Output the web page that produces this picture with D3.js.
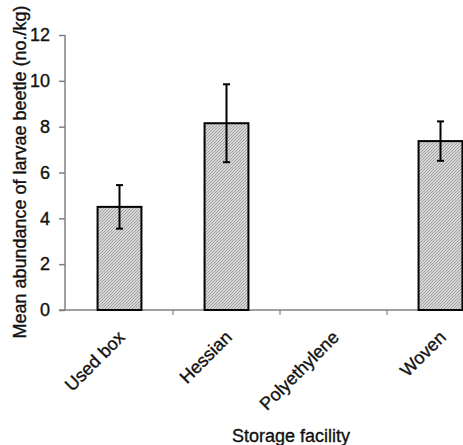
<!DOCTYPE html>
<html><head><meta charset="utf-8">
<script src="https://cdn.jsdelivr.net/npm/d3@7"></script>
<style>body{margin:0;background:#fff}svg{display:block;font-family:Arial,"Liberation Sans",sans-serif}</style>
</head><body>
<script>
const categories = ["Used box", "Hessian", "Polyethylene", "Woven"];
const means = [4.5, 8.15, 0, 7.37];
const errors = [0.95, 1.7, 0, 0.86];
const yTicks = [0, 2, 4, 6, 8, 10, 12];

const W = 463, H = 445;
const svg = d3.select("body").append("svg").attr("width", W).attr("height", H);

const defs = svg.append("defs");
const pat = defs.append("pattern").attr("id", "hatch").attr("patternUnits", "userSpaceOnUse")
  .attr("width", 3).attr("height", 3);
pat.append("rect").attr("width", 3).attr("height", 3).attr("fill", "#d6d6d6");
pat.append("path").attr("d", "M0,3 L3,0 M-1,1 L1,-1 M2,4 L4,2").attr("stroke", "#a2a2a2").attr("stroke-width", 1);

const x = d3.scaleBand().domain(categories).range([66, 494]).padding(0);
const y = d3.scaleLinear().domain([0, 12]).range([310, 35]);
const barW = x.bandwidth() * 0.41;

function txt(sel) { sel.attr("fill", "#111").attr("stroke", "#111").attr("stroke-width", 0.35); }

// Y axis
const yAx = svg.append("g").attr("transform", "translate(65,0)")
  .call(d3.axisLeft(y).tickValues(yTicks).tickSize(6).tickPadding(9));
yAx.select(".domain").attr("stroke", "#808080").attr("stroke-width", 1.5).attr("d", "M0,35V310");
yAx.selectAll(".tick line").attr("stroke", "#808080").attr("stroke-width", 1.5);
yAx.selectAll(".tick text").attr("font-size", 18).call(txt);

// X axis
const xAx = svg.append("g").attr("transform", "translate(0,310)")
  .call(d3.axisBottom(x).tickSize(0).tickPadding(0));
xAx.select(".domain").attr("stroke", "#808080").attr("stroke-width", 1.5).attr("d", "M59,0H494");
xAx.selectAll(".tick text")
  .attr("font-size", 18).call(txt)
  .attr("text-anchor", "end")
  .attr("transform", "translate(2,24) rotate(-45)")
  .attr("dy", "0.35em");
// boundary ticks
xAx.selectAll(".bnd").data(categories.slice(1)).enter().append("line")
  .attr("x1", d => x(d)).attr("x2", d => x(d)).attr("y1", 0).attr("y2", 5)
  .attr("stroke", "#808080").attr("stroke-width", 1.2);

// Bars
const data = categories.map((c, i) => ({c, m: means[i], e: errors[i]}));
svg.selectAll(".bar").data(data.filter(d => d.m > 0)).enter().append("rect")
  .attr("x", d => x(d.c) + x.bandwidth() / 2 - barW / 2)
  .attr("y", d => y(d.m))
  .attr("width", barW)
  .attr("height", d => y(0) - y(d.m))
  .attr("fill", "url(#hatch)").attr("stroke", "#000").attr("stroke-width", 2);

// Error bars
const eg = svg.selectAll(".err").data(data.filter(d => d.e > 0)).enter().append("g")
  .attr("stroke", "#000").attr("stroke-width", 2);
eg.append("line").attr("x1", d => x(d.c) + x.bandwidth() / 2).attr("x2", d => x(d.c) + x.bandwidth() / 2)
  .attr("y1", d => y(d.m + d.e)).attr("y2", d => y(d.m - d.e));
eg.append("line").attr("x1", d => x(d.c) + x.bandwidth() / 2 - 3.5).attr("x2", d => x(d.c) + x.bandwidth() / 2 + 3.5)
  .attr("y1", d => y(d.m + d.e)).attr("y2", d => y(d.m + d.e));
eg.append("line").attr("x1", d => x(d.c) + x.bandwidth() / 2 - 3.5).attr("x2", d => x(d.c) + x.bandwidth() / 2 + 3.5)
  .attr("y1", d => y(d.m - d.e)).attr("y2", d => y(d.m - d.e));

// Titles
svg.append("text").attr("x", 291).attr("y", 442).attr("text-anchor", "middle")
  .attr("font-size", 18).call(txt).text("Storage facility");
svg.append("text").attr("transform", "translate(26,172) rotate(-90)").attr("text-anchor", "middle")
  .attr("font-size", 18).call(txt).text("Mean abundance of larvae beetle (no./kg)");
</script>
</body></html>
